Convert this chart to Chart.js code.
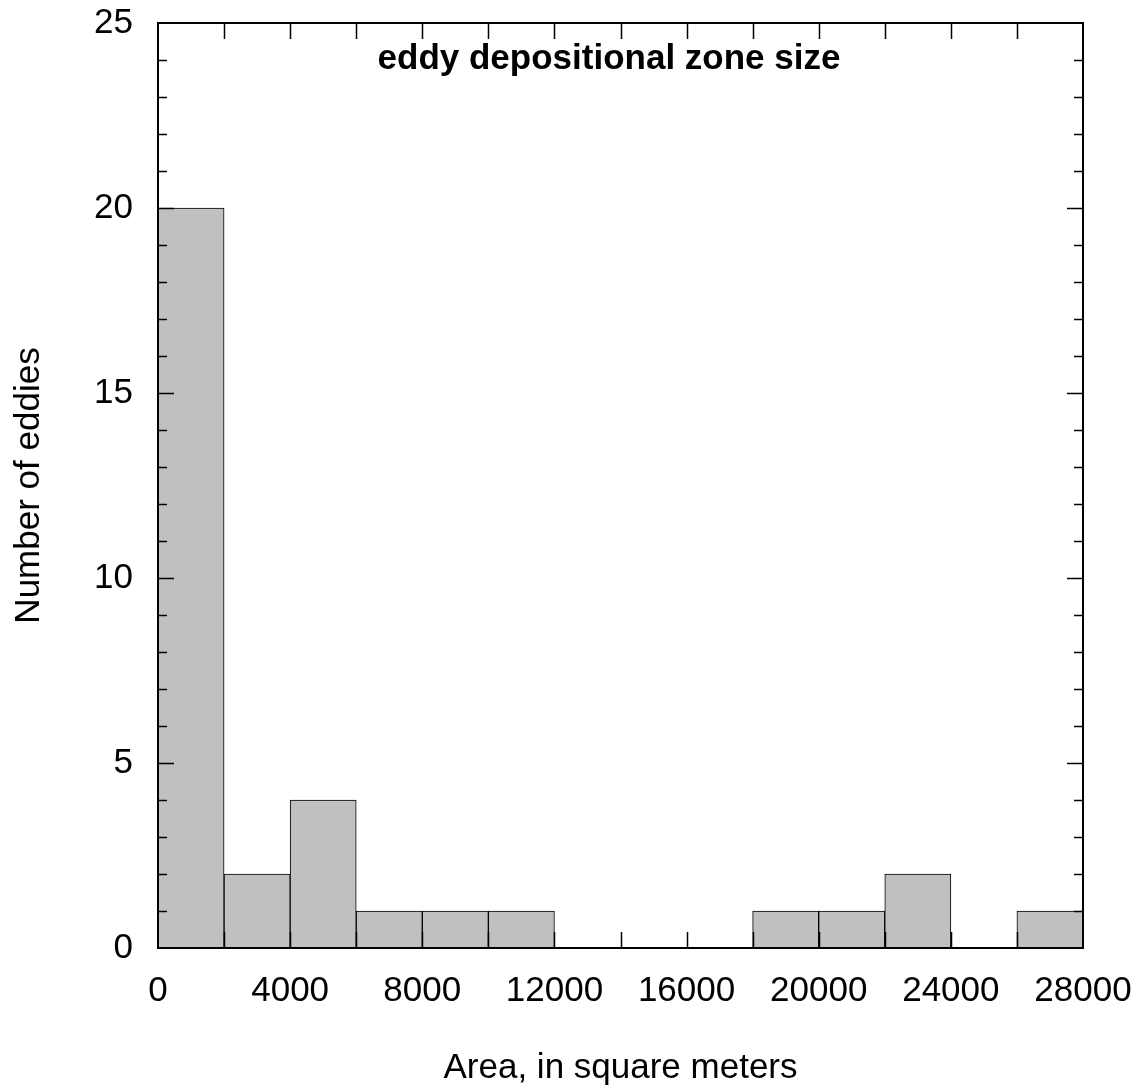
<!DOCTYPE html>
<html lang="en">
  <head>
    <meta charset="UTF-8" />
    <title>eddy depositional zone size</title>
    <script src="https://cdn.jsdelivr.net/npm/chart.js"></script>
    <style>
      html, body { margin: 0; padding: 0; background: #fff; }
      #wrap { width: 1140px; height: 1089px; }
    </style>
  </head>
  <body>
    <div id="wrap"><canvas id="histChart"></canvas></div>

    <script>
      // histogram bins (square meters), 2000 wide
      const binCenters = [1000, 3000, 5000, 7000, 9000, 11000, 13000, 15000, 17000, 19000, 21000, 23000, 25000, 27000];
      const counts = [20, 2, 4, 1, 1, 1, 0, 0, 0, 1, 1, 2, 0, 1];

      const xTicks = [0, 4000, 8000, 12000, 16000, 20000, 24000, 28000];
      const xMinor = [2000, 4000, 6000, 8000, 10000, 12000, 14000, 16000, 18000, 20000, 22000, 24000, 26000];
      const yTicks = [0, 5, 10, 15, 20, 25];
      const yMinor = [1, 2, 3, 4, 5, 6, 7, 8, 9, 10, 11, 12, 13, 14, 15, 16, 17, 18, 19, 20, 21, 22, 23, 24];

      const FONT = "'Liberation Sans', Arial, sans-serif";

      const frame = {
        id: "frame",
        afterDatasetsDraw(chart) {
          const { ctx, chartArea: a, scales } = chart;
          ctx.save();
          ctx.strokeStyle = "#000";
          ctx.lineWidth = 1.5;
          ctx.beginPath();
          // x ticks, top and bottom, inward
          xMinor.forEach((v) => {
            const px = Math.round(scales.x.getPixelForValue(v)) + 0.5;
            ctx.moveTo(px, a.top);
            ctx.lineTo(px, a.top + 16);
            ctx.moveTo(px, a.bottom);
            ctx.lineTo(px, a.bottom - 16);
          });
          // y ticks, left and right
          yMinor.forEach((v) => {
            const len = v % 5 === 0 ? 16 : 9;
            const py = Math.round(scales.y.getPixelForValue(v)) + 0.5;
            ctx.moveTo(a.left, py);
            ctx.lineTo(a.left + len, py);
            ctx.moveTo(a.right, py);
            ctx.lineTo(a.right - len, py);
          });
          ctx.stroke();
          ctx.lineWidth = 2;
          ctx.strokeRect(a.left, a.top, a.right - a.left, a.bottom - a.top);
          // title inside plot
          ctx.fillStyle = "#000";
          ctx.font = "bold 35px " + FONT;
          ctx.textAlign = "center";
          ctx.textBaseline = "middle";
          ctx.fillText("eddy depositional zone size", 609, 59);
          ctx.restore();
        },
      };

      new Chart(document.getElementById("histChart"), {
        type: "bar",
        data: {
          datasets: [
            {
              data: binCenters.map((x, i) => ({ x: x, y: counts[i] })),
              backgroundColor: "#c0c0c0",
              borderColor: "#000",
              borderWidth: 1,
              borderSkipped: "start",
              barPercentage: 1,
              categoryPercentage: 1,
            },
          ],
        },
        options: {
          responsive: true,
          maintainAspectRatio: false,
          animation: false,
          layout: { padding: { top: 23, right: 57, left: 0, bottom: 0 } },
          plugins: { legend: { display: false }, tooltip: { enabled: false } },
          scales: {
            x: {
              type: "linear",
              offset: false,
              min: 0,
              max: 28000,
              grid: { display: false, offset: false },
              border: { display: false },
              afterBuildTicks: (s) => { s.ticks = xTicks.map((v) => ({ value: v })); },
              afterFit: (s) => {
                s.height = 141;
                s.paddingLeft = 0;
                s.paddingRight = 0;
              },
              ticks: {
                color: "#000",
                padding: 14,
                maxRotation: 0,
                autoSkip: false,
                font: { family: FONT, size: 35 },
                callback: (v) => String(v),
              },
              title: {
                display: true,
                text: "Area, in square meters",
                color: "#000",
                font: { family: FONT, size: 35 },
                padding: { top: 28, bottom: 0 },
              },
            },
            y: {
              min: 0,
              max: 25,
              grid: { display: false },
              border: { display: false },
              afterBuildTicks: (s) => { s.ticks = yTicks.map((v) => ({ value: v })); },
              afterFit: (s) => {
                s.width = 158;
                s.paddingTop = 0;
                s.paddingBottom = 0;
              },
              ticks: {
                color: "#000",
                padding: 17,
                font: { family: FONT, size: 35 },
              },
              title: {
                display: true,
                text: "Number of eddies",
                color: "#000",
                font: { family: FONT, size: 35 },
                padding: { top: 8, bottom: 0 },
              },
            },
          },
        },
        plugins: [frame],
      });
    </script>
  </body>
</html>
